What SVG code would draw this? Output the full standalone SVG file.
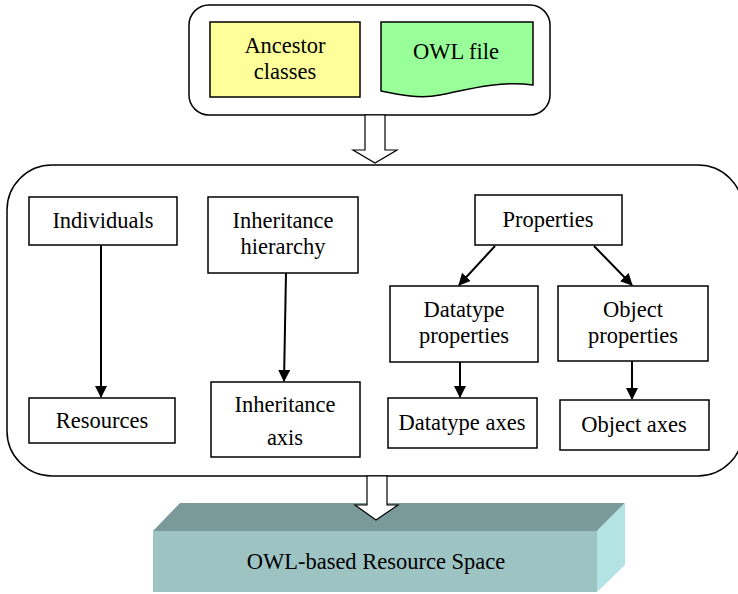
<svg xmlns="http://www.w3.org/2000/svg" width="738" height="594" viewBox="0 0 738 594">
<style>
text{font-family:"Liberation Serif","Times New Roman",serif;font-size:22.5px;fill:#000;text-anchor:middle}
.box{fill:#fff;stroke:#000;stroke-width:1.5}
.cont{fill:#fff;stroke:#000;stroke-width:1.5}
.conn{stroke:#000;stroke-width:2;fill:none;marker-end:url(#ah)}
.hollow{fill:#fff;stroke:#000;stroke-width:1.2}
</style>
<defs>
<marker id="ah" viewBox="0 0 12 12" refX="11" refY="6" markerWidth="12" markerHeight="12" markerUnits="userSpaceOnUse" orient="auto">
<path d="M0,0 L12,6 L0,12 Z" fill="#000"/>
</marker>
</defs>
<rect width="738" height="594" fill="#fff"/>
<g id="top-container">
<rect class="cont" x="189" y="5" width="361" height="110" rx="20"/>
</g>
<g id="ancestor-classes">
<rect x="210" y="22" width="150" height="75" fill="#FFFF99" stroke="#000" stroke-width="1.5"/>
<text x="285" y="53">Ancestor</text>
<text x="285" y="79">classes</text>
</g>
<g id="owl-file">
<path d="M381,22 H533 V85 C500,80 465,90 440,95 C420,99 400,95 381,91 Z" fill="#99FF99" stroke="#000" stroke-width="1.5"/>
<text x="456" y="59">OWL file</text>
</g>
<g id="main-container">
<rect class="cont" x="7" y="165" width="736" height="311" rx="45"/>
</g>
<g id="individuals">
<rect class="box" x="29" y="197" width="148" height="48"/>
<text x="103" y="228">Individuals</text>
</g>
<g id="resources">
<rect class="box" x="29" y="398" width="146" height="45"/>
<text x="102" y="428">Resources</text>
</g>
<g id="inheritance-hierarchy">
<rect class="box" x="208" y="197" width="150" height="76"/>
<text x="283" y="228">Inheritance</text>
<text x="283" y="254">hierarchy</text>
</g>
<g id="inheritance-axis">
<rect class="box" x="211" y="382" width="149" height="75"/>
<text x="285" y="412">Inheritance</text>
<text x="285" y="445">axis</text>
</g>
<g id="properties">
<rect class="box" x="475" y="195" width="147" height="50"/>
<text x="548" y="227">Properties</text>
</g>
<g id="datatype-properties">
<rect class="box" x="390" y="286" width="148" height="76"/>
<text x="464" y="317">Datatype</text>
<text x="464" y="343">properties</text>
</g>
<g id="object-properties">
<rect class="box" x="558" y="286" width="150" height="75"/>
<text x="633" y="317">Object</text>
<text x="633" y="343">properties</text>
</g>
<g id="datatype-axes">
<rect class="box" x="388" y="398" width="149" height="50"/>
<text x="462" y="430">Datatype axes</text>
</g>
<g id="object-axes">
<rect class="box" x="560" y="400" width="149" height="50"/>
<text x="634" y="432">Object axes</text>
</g>
<g id="resource-space">
<polygon points="153,531 180,503 625,503 597,531" fill="#7A9999"/>
<polygon points="597,531 625,503 625,565 597,592" fill="#B3E3E3"/>
<rect x="153" y="531" width="444" height="61" fill="#9DC3C3"/>
<text x="376" y="569">OWL-based Resource Space</text>
</g>
<g id="connectors">
<path class="hollow" d="M365,115 H385 V150 H397 L375,163 L353,150 H365 Z"/>
<path class="hollow" d="M367,476 H387 V505 H398 L376,520 L355,505 H367 Z"/>
<line class="conn" x1="101" y1="245" x2="101" y2="397"/>
<line class="conn" x1="286" y1="273" x2="284" y2="381"/>
<line class="conn" x1="495" y1="246" x2="459" y2="285"/>
<line class="conn" x1="594" y1="246" x2="632" y2="285"/>
<line class="conn" x1="460" y1="362" x2="460" y2="397"/>
<line class="conn" x1="632" y1="361" x2="632" y2="399"/>
</g>
</svg>
